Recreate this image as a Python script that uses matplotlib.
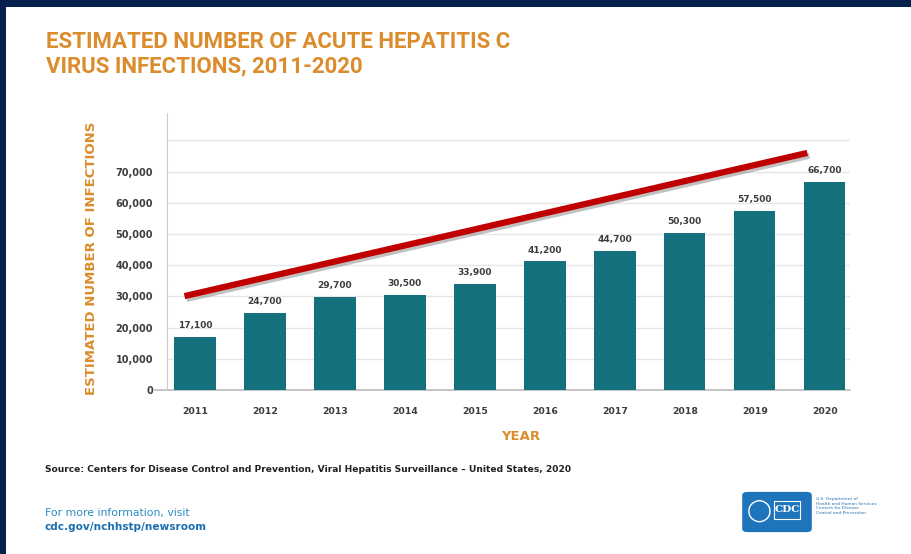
import matplotlib
matplotlib.use('Agg')
import matplotlib.pyplot as plt
from matplotlib.patches import Rectangle, FancyBboxPatch
import matplotlib.patheffects as pe

# data
years = ['2011', '2012', '2013', '2014', '2015', '2016', '2017', '2018', '2019', '2020']
infections = [17100, 24700, 29700, 30500, 33900, 41200, 44700, 50300, 57500, 66700]
yticks = [0, 10000, 20000, 30000, 40000, 50000, 60000, 70000, 80000]
# hand drawn trend arrow on the slide (start/end in data units)
trend_x = [-0.15, 8.75]
trend_y = [30100, 76000]

navy = '#05204c'
orange = '#db8c2c'
teal = '#15707d'
grey = '#3d3d3d'

fig = plt.figure(figsize=(9.12, 5.54), dpi=100)
fig.patch.set_facecolor(navy)
fig.patches.append(Rectangle((6/912, 0), 1, 1 - 7/554, transform=fig.transFigure,
                             facecolor='white', edgecolor='none', zorder=-5))

ax = fig.add_axes([167/912, 1 - 390/554, (850-167)/912, (390-113)/554])
ax.set_zorder(2)
ax.set_facecolor('none')

x = range(len(years))
ax.bar(x, infections, width=0.59, color=teal, zorder=3)
for i, v in enumerate(infections):
    ax.annotate(f'{v:,}', (i, v), xytext=(0, 5), textcoords='offset points',
                ha='center', va='bottom', fontsize=6.5, color=grey, fontweight='bold')

ax.plot(trend_x, trend_y, color='#c00000', lw=4.5, solid_capstyle='butt', zorder=4,
        path_effects=[pe.SimpleLineShadow(offset=(1.5, -2), shadow_color='#777777', alpha=0.45),
                      pe.Normal()])

ax.set_xlim(-0.4, 9.36)
ax.set_ylim(0, 88800)
ax.set_yticks(yticks)
ax.set_yticklabels([f'{t:,}' if t < 80000 else '' for t in yticks])
ax.set_xticks(list(x))
ax.set_xticklabels(years)
ax.tick_params(axis='both', length=0, labelcolor=grey)
ax.tick_params(axis='y', pad=10, labelsize=7)
ax.tick_params(axis='x', pad=12, labelsize=6.7)
for lab in ax.get_xticklabels() + ax.get_yticklabels():
    lab.set_fontweight('bold')

ax.grid(axis='y', color='#e6e6e6', lw=1, zorder=0)
for s in ['top', 'right', 'bottom']:
    ax.spines[s].set_visible(False)
ax.spines['left'].set_color('#cccccc')
ax.plot([-0.018, 1], [0, 0], transform=ax.transAxes, color='#bbbbbb', lw=1.2,
        clip_on=False, zorder=2)

fig.text(92/912, 1 - 258/554, 'ESTIMATED NUMBER OF INFECTIONS', rotation=90,
         ha='center', va='center', color=orange, fontsize=9.5, fontweight='bold')
fig.text(521/912, 1 - 436/554, 'YEAR', ha='center', va='center', color=orange,
         fontsize=9.5, fontweight='bold')

title_font = ['Roboto', 'DejaVu Sans']
fig.text(46/912, 1 - 48/554, 'ESTIMATED NUMBER OF ACUTE HEPATITIS C', ha='left', va='baseline',
         color=orange, fontsize=16, fontweight='bold', family=title_font)
fig.text(46/912, 1 - 72/554, 'VIRUS INFECTIONS, 2011-2020', ha='left', va='baseline',
         color=orange, fontsize=16, fontweight='bold', family=title_font)

fig.text(45/912, 1 - 469/554,
         'Source: Centers for Disease Control and Prevention, Viral Hepatitis Surveillance \u2013 United States, 2020',
         ha='left', va='center', fontsize=6.6, fontweight='bold', color='#222222')

fig.text(45/912, 1 - 513/554, 'For more information, visit', ha='left', va='center',
         fontsize=7.8, color='#2b8cc4')
fig.text(45/912, 1 - 527/554, 'cdc.gov/nchhstp/newsroom', ha='left', va='center',
         fontsize=7.6, fontweight='bold', color='#1a6fae')

# CDC logo block
fig.patches.append(FancyBboxPatch((744/912, 1 - 531/554), 66/912, 38/554,
                                  boxstyle='round,pad=0.002,rounding_size=0.006',
                                  transform=fig.transFigure, facecolor='#1f75bc',
                                  edgecolor='none', zorder=1))
fig.patches.append(Rectangle((774/912, 1 - 519/554), 26/912, 18/554,
                             transform=fig.transFigure, facecolor='none',
                             edgecolor='white', lw=0.8, zorder=2))
fig.text(787/912, 1 - 510/554, 'CDC', ha='center', va='center', fontsize=7.5,
         fontweight='bold', color='white', family='DejaVu Serif', zorder=3)
fig.text(759/912, 1 - 511/554, '\u25ef', ha='center', va='center', fontsize=16,
         color='white', zorder=3)
fig.text(816/912, 1 - 506/554,
         'U.S. Department of\nHealth and Human Services\nCenters for Disease\nControl and Prevention',
         ha='left', va='center', fontsize=3.2, color='#1f75bc', linespacing=1.2)

fig.savefig('out.png', dpi=100, facecolor=fig.get_facecolor())
